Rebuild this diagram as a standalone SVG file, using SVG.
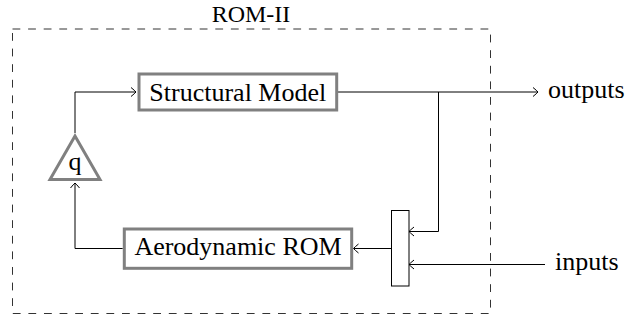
<svg xmlns="http://www.w3.org/2000/svg" width="626" height="321" viewBox="0 0 626 321">
<style>
text{font-family:"Liberation Serif","Times New Roman",serif;font-size:26px;fill:#000}
.blk{fill:#fff;stroke:#808080;stroke-width:3}
.ln{fill:none;stroke:#000;stroke-width:1}
.frame{fill:none;stroke:#333;stroke-width:1;stroke-dasharray:7.8 7.8}
</style>
<defs>
<marker id="to" markerUnits="userSpaceOnUse" markerWidth="12" markerHeight="12" viewBox="-7 -6 8 12" refX="0" refY="0" orient="auto">
<path d="M-5,-4.5 Q-1.2,-1.4 0,0 Q-1.2,1.4 -5,4.5" fill="none" stroke="#000" stroke-width="1"/>
</marker>
</defs>
<g id="frame">
<path class="frame" d="M12.5,29 H490.5 V313.5 H12.5 Z"/>
<text x="251" y="22" text-anchor="middle" style="font-size:24px">ROM-II</text>
</g>
<g id="connectors">
<path class="ln" d="M75,133 V92 H136" marker-end="url(#to)"/>
<path class="ln" d="M338,92 H538" marker-end="url(#to)"/>
<path class="ln" d="M438.5,92 V231.5 H409" marker-end="url(#to)"/>
<path class="ln" d="M545,264.5 H409" marker-end="url(#to)"/>
<path class="ln" d="M391.5,248.5 H353.5" marker-end="url(#to)"/>
<path class="ln" d="M122.7,248.5 H75 V183" marker-end="url(#to)"/>
</g>
<g id="structural">
<rect class="blk" x="139" y="74" width="197.7" height="36"/>
<text x="237.8" y="100.5" text-anchor="middle">Structural Model</text>
</g>
<g id="aero">
<rect class="blk" x="124.3" y="229" width="227.4" height="39.3"/>
<text x="238" y="255" text-anchor="middle">Aerodynamic ROM</text>
</g>
<g id="gain">
<polygon class="blk" points="75,136 50,179.5 100,179.5"/>
<text x="75" y="170" text-anchor="middle">q</text>
</g>
<g id="mux">
<rect x="391.5" y="210.5" width="17.5" height="75.5" fill="#fff" stroke="#000" stroke-width="1"/>
</g>
<g id="outputs">
<text x="548" y="98">outputs</text>
</g>
<g id="inputs">
<text x="555" y="270">inputs</text>
</g>
</svg>
